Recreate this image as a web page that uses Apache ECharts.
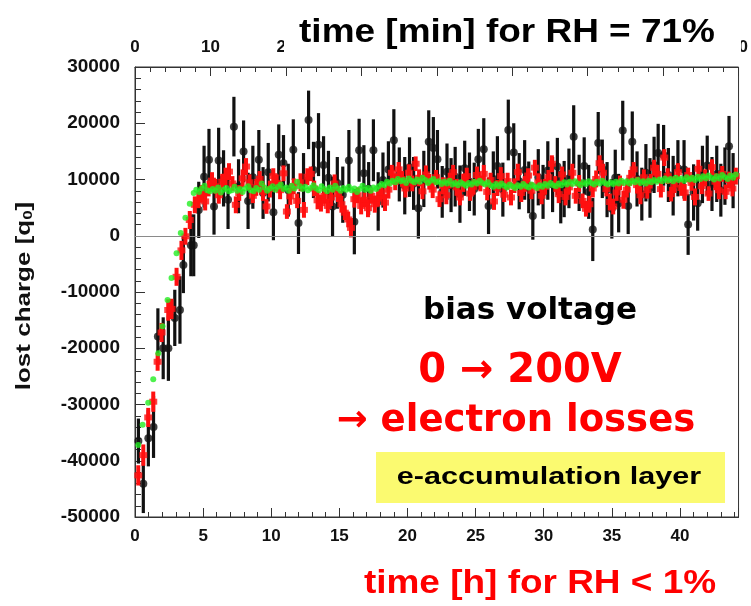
<!DOCTYPE html>
<html>
<head>
<meta charset="utf-8">
<script src="https://cdn.jsdelivr.net/npm/echarts/dist/echarts.min.js"></script>
<style>html,body{margin:0;padding:0;background:#fff}#c{width:751px;height:606px}</style>
</head>
<body>
<div id="c"></div>
<script>
// ---- data (time in hours, lost charge in q0) ----
const blackTime = [
0.25,0.61,0.98,1.36,1.68,2.07,2.45,2.92,3.30,3.55,
4.10,4.31,4.68,5.07,5.43,5.80,6.14,6.50,6.83,7.26,
7.60,7.97,8.30,8.65,9.09,9.40,9.78,10.16,10.55,10.90,
11.25,11.62,12.00,12.37,12.74,13.10,13.47,13.84,14.20,14.50,
14.85,15.25,15.70,16.10,16.45,16.80,17.15,17.50,17.85,18.20,
18.60,19.00,19.40,19.80,20.15,20.45,20.80,21.20,21.56,21.90,
22.20,22.55,22.90,23.20,23.50,23.85,24.20,24.55,24.90,25.20,
25.60,25.95,26.30,26.60,27.00,27.40,27.80,28.20,28.60,28.90,
29.20,29.60,29.95,30.30,30.65,31.00,31.25,31.50,31.85,32.20,
32.60,32.97,33.30,33.60,34.00,34.30,34.65,35.00,35.25,35.50,
35.80,36.20,36.50,36.85,37.20,37.50,37.80,38.10,38.40,38.80,
39.15,39.50,39.85,40.30,40.60,41.00,41.30,41.65,42.00,42.35,
42.70,43.00,43.30,43.60,43.90];
const blackCharge = [
-36500,-44100,-36000,-34000,-17900,-20000,-20000,-14600,-13200,-5200,
-1700,-1700,4600,10500,13500,5200,13400,10200,6400,19400,
8800,15000,6200,10400,13500,7600,11300,4200,14400,12900,
8100,15300,2250,9800,20600,11700,16200,12600,10300,5200,
9400,7300,13400,2500,15200,11100,8400,15200,6100,9900,
11800,17000,10900,8900,12200,9300,4900,10100,16700,15600,
13600,7800,11400,9000,10500,7400,12000,9600,8300,13600,
15400,5300,10100,12400,8200,18800,14800,9700,11700,8600,
3500,10400,7800,11600,9100,12300,6900,8300,10200,17600,
9400,12400,7800,1100,16500,11900,8200,4800,10300,5800,
18700,5300,16700,10100,7400,11200,8500,12600,14700,14300,
10800,8900,12000,11800,2000,7700,5800,10900,12500,9200,
11000,8100,10600,15900,9800];
const blackError = [
4000,5200,5000,5500,5000,5500,5800,5000,6000,5000,
5500,5500,5000,5500,5500,5000,5800,5000,5200,5300,
4800,5500,5000,5600,5300,4600,5200,5000,5400,5000,
4700,5400,5500,4900,5200,5000,5600,5100,4800,5300,
4600,5000,5400,5800,5600,5000,4700,5500,5200,4900,
5000,5500,4800,5100,5300,4700,5400,5000,5600,5500,
5200,4600,5000,4800,5300,5100,4900,5200,4700,5400,
5500,5000,4900,5300,4800,5400,5200,5000,5300,4600,
4200,5000,4800,5200,4900,5100,4700,5000,5300,5600,
5000,5100,4800,5600,5500,5200,4900,5300,5000,5200,
5300,5000,5400,4900,4700,5100,5300,5000,5200,5400,
4800,5300,5000,5200,5400,5000,4900,5100,5300,4800,
5000,4700,5100,5400,4900];

const redTime = [
0.24,0.61,0.97,1.34,1.66,1.95,2.44,2.68,3.05,3.41,
3.70,4.02,4.39,4.65,4.90,5.15,5.40,5.65,5.90,6.15,
6.40,6.65,6.90,7.15,7.40,7.65,7.90,8.15,8.40,8.65,
8.90,9.15,9.40,9.65,9.90,10.15,10.40,10.65,10.90,11.15,
11.40,11.65,11.90,12.15,12.40,12.65,12.90,13.15,13.40,13.65,
13.90,14.15,14.40,14.65,14.90,15.15,15.40,15.65,15.85,16.10,
16.35,16.60,16.85,17.10,17.35,17.60,17.85,18.10,18.35,18.60,
18.85,19.10,19.35,19.60,19.85,20.10,20.35,20.60,20.85,21.10,
21.35,21.60,21.85,22.10,22.35,22.60,22.85,23.10,23.35,23.60,
23.85,24.10,24.35,24.60,24.85,25.10,25.35,25.60,25.85,26.10,
26.35,26.60,26.85,27.10,27.35,27.60,27.85,28.10,28.35,28.60,
28.85,29.10,29.35,29.60,29.85,30.10,30.35,30.60,30.85,31.10,
31.35,31.60,31.85,32.10,32.35,32.60,32.85,33.10,33.35,33.60,
33.85,34.10,34.35,34.60,34.85,35.10,35.35,35.60,35.85,36.10,
36.35,36.60,36.85,37.10,37.35,37.60,37.85,38.10,38.35,38.60,
38.85,39.10,39.35,39.60,39.85,40.10,40.35,40.60,40.85,41.10,
41.35,41.60,41.85,42.10,42.35,42.60,42.85,43.10,43.35,43.60,
43.85,44.10];
const redCharge = [
-42600,-39000,-32300,-29500,-22400,-17200,-13200,-13000,-7300,-2600,
-100,2800,5500,6300,7500,6100,8400,9800,8800,7200,
9600,10500,11400,9300,5500,7600,10200,12300,9500,7100,
8600,10100,7800,5200,8300,10600,9400,8100,11100,4300,
7000,8800,6200,9500,4600,10500,11000,8400,6300,5800,
7100,5300,6800,9300,7400,5600,4100,2900,1400,6500,
7200,5300,6400,4900,7100,5600,6600,7700,5900,8200,
11200,9600,11800,10100,8400,11200,9300,12800,10300,7900,
10900,9600,8200,10400,6500,8900,7200,9800,11300,8600,
6800,9400,10600,7500,8700,10800,9300,11000,7800,9900,
6100,8500,10600,7300,9700,6800,8900,11300,7600,9200,
10700,8000,12100,9500,7100,8700,10400,12800,9200,7400,
10900,6900,8600,11200,7100,9300,6200,4800,5600,8400,
10100,12900,11200,8300,6000,5200,7700,9400,6400,8200,
10300,11800,9000,7200,10400,8100,9700,12100,11000,8300,
13900,10600,7400,9100,11300,8500,7700,10800,9400,6900,
11900,8800,10300,7500,12200,9600,8100,11000,7800,9900,
8400,10600];
const redError = [
1800,1900,1700,1800,1600,1700,1900,1800,1600,1700,
1500,1600,1500,1400,1500,1600,1400,1500,1300,1500,
1400,1600,1500,1300,1500,1400,1600,1500,1400,1300,
1500,1400,1600,1300,1500,1400,1500,1600,1400,1300,
1500,1400,1300,1600,1400,1500,1300,1400,1600,1500,
1400,1300,1500,1600,1400,1500,1300,1400,1700,1500,
1400,1500,1300,1600,1400,1500,1400,1300,1500,1600,
1400,1500,1300,1400,1600,1500,1400,1300,1500,1400,
1600,1400,1500,1300,1400,1500,1600,1400,1300,1500,
1400,1600,1500,1300,1400,1500,1400,1600,1500,1300,
1500,1400,1600,1300,1500,1400,1300,1500,1600,1400,
1300,1500,1400,1600,1500,1400,1300,1500,1400,1600,
1400,1500,1300,1600,1400,1500,1300,1400,1500,1600,
1500,1400,1600,1300,1500,1400,1500,1300,1600,1400,
1400,1300,1500,1600,1400,1500,1300,1400,1600,1500,
1500,1400,1300,1500,1600,1400,1500,1300,1400,1500,
1600,1400,1500,1300,1400,1500,1600,1400,1300,1500,
1400,1500];

const greenTime = [
0.24,0.56,0.97,1.34,1.71,2.02,2.39,2.68,3.05,3.36,
3.70,4.02,4.31,4.5,4.7,4.9,5.1,5.3,5.5,5.7,
5.9,6.1,6.3,6.5,6.7,6.9,7.1,7.3,7.5,7.7,
7.9,8.1,8.3,8.5,8.7,8.9,9.1,9.3,9.5,9.7,
9.9,10.1,10.3,10.5,10.7,10.9,11.1,11.3,11.5,11.7,
11.9,12.1,12.3,12.5,12.7,12.9,13.1,13.3,13.5,13.7,
13.9,14.1,14.3,14.5,14.7,14.9,15.1,15.3,15.5,15.7,
15.9,16.1,16.3,16.5,16.7,16.9,17.1,17.3,17.5,17.7,
17.9,18.1,18.3,18.5,18.7,18.9,19.1,19.3,19.5,19.7,
19.9,20.1,20.3,20.5,20.7,20.9,21.1,21.3,21.5,21.7,
21.9,22.1,22.3,22.5,22.7,22.9,23.1,23.3,23.5,23.7,
23.9,24.1,24.3,24.5,24.7,24.9,25.1,25.3,25.5,25.7,
25.9,26.1,26.3,26.5,26.7,26.9,27.1,27.3,27.5,27.7,
27.9,28.1,28.3,28.5,28.7,28.9,29.1,29.3,29.5,29.7,
29.9,30.1,30.3,30.5,30.7,30.9,31.1,31.3,31.5,31.7,
31.9,32.1,32.3,32.5,32.7,32.9,33.1,33.3,33.5,33.7,
33.9,34.1,34.3,34.5,34.7,34.9,35.1,35.3,35.5,35.7,
35.9,36.1,36.3,36.5,36.7,36.9,37.1,37.3,37.5,37.7,
37.9,38.1,38.3,38.5,38.7,38.9,39.1,39.3,39.5,39.7,
39.9,40.1,40.3,40.5,40.7,40.9,41.1,41.3,41.5,41.7,
41.9,42.1,42.3,42.5,42.7,42.9,43.1,43.3,43.5,43.7,
43.9,44.1];
const greenCharge = [
-37200,-33600,-29700,-25500,-20900,-16100,-11400,-7500,-3100,500,
3200,5700,7600,8200,7800,8400,8900,8100,7900,8300,
8000,8600,7700,8200,8500,7900,8100,8700,8000,8300,
7800,8400,8800,8100,7900,8500,8200,9300,8600,8000,
8400,8800,8200,8700,9100,8300,8600,8000,8900,8400,
9600,8800,8300,8700,8100,8500,9000,8400,8100,8800,
8300,7900,8600,8200,8900,8400,8000,8500,8200,8700,
8100,8400,7800,8300,8900,8200,8500,8000,8600,8300,
8800,9200,9000,9600,9300,9800,9500,10100,9700,9900,
9400,10200,9800,9500,10000,9600,10300,9900,9400,9800,
10100,9500,9700,9200,9600,9300,9800,9100,9400,9000,
9500,9200,8900,9400,9100,9600,9300,9800,9400,9100,
9500,9000,8700,9200,8800,9300,8900,8600,9100,8800,
8500,9000,8700,9200,8800,8600,9100,8800,8500,9000,
8700,9200,8900,9400,9000,8800,9300,9000,9500,9100,
9600,9200,9700,9300,9000,9500,9200,9700,9400,9100,
9600,9300,9800,9400,9100,9500,9200,9600,9300,9800,
9400,9700,9300,9800,9500,9900,9400,9700,9300,9800,
9500,9900,9600,10000,9700,10200,9800,10100,9700,10300,
9900,10200,9800,10400,10000,10300,9900,10500,10100,10600,
10200,10700,10300,10000,10600,10200,10800,10400,10100,10700,
10300,10900];

const yTicks = [-50000, 30000, 10000];     // min, max, step of lost charge axis
const hourTicks = [0, 44.3, 5];            // bottom axis (hours)
const minuteTicks = [0, 80, 10];           // top axis (minutes)

// ---- build ----
const blackData = blackTime.map((t, i) => [t, blackCharge[i], blackError[i]]);
const redData = redTime.map((t, i) => [t, redCharge[i], redError[i]]);
const greenData = greenTime.map((t, i) => [t, greenCharge[i]]);

function errBar(color, width) {
  return function (params, api) {
    const x = api.value(0), y = api.value(1), e = api.value(2);
    const lo = api.coord([x, y - e]), hi = api.coord([x, y + e]);
    return {
      type: 'line',
      shape: { x1: lo[0], y1: lo[1], x2: hi[0], y2: hi[1] },
      style: { stroke: color, lineWidth: width }
    };
  };
}

const FONT = '"Liberation Sans", Arial, sans-serif';
const plain = (v) => String(v);
const lbl = (size) => ({ fontFamily: FONT, fontWeight: 'bold', fontSize: size, color: '#111', formatter: plain });

const chart = echarts.init(document.getElementById('c'), null, { renderer: 'canvas' });
chart.setOption({
  animation: false,
  backgroundColor: '#fff',
  grid: { left: 135, right: 10, top: 67, bottom: 89, show: true, borderColor: '#333', borderWidth: 1, backgroundColor: 'transparent' },
  xAxis: [
    {
      type: 'value', position: 'bottom', min: hourTicks[0], max: hourTicks[1], interval: hourTicks[2],
      axisLine: { show: true, onZero: false, lineStyle: { color: '#333', width: 1 } },
      axisTick: { show: true, inside: true, length: 9, lineStyle: { color: '#333' } },
      minorTick: { show: true, splitNumber: 5, length: 5, lineStyle: { color: '#333' } },
      splitLine: { show: false },
      axisLabel: Object.assign(lbl(17), { margin: 11, showMaxLabel: false })
    },
    {
      type: 'value', position: 'top', min: minuteTicks[0], max: minuteTicks[1], interval: minuteTicks[2],
      axisLine: { show: true, onZero: false, lineStyle: { color: '#333', width: 1 } },
      axisTick: { show: true, inside: true, length: 9, lineStyle: { color: '#333' } },
      minorTick: { show: true, splitNumber: 5, length: 5, lineStyle: { color: '#333' } },
      splitLine: { show: false },
      axisLabel: Object.assign(lbl(17), { margin: 11 })
    }
  ],
  yAxis: {
    type: 'value', min: yTicks[0], max: yTicks[1], interval: yTicks[2],
    axisLine: { show: true, onZero: false, lineStyle: { color: '#333', width: 1 } },
    axisTick: { show: true, inside: true, length: 10, lineStyle: { color: '#333' } },
    minorTick: { show: true, splitNumber: 5, length: 6, lineStyle: { color: '#333' } },
    splitLine: { show: false },
    axisLabel: Object.assign(lbl(19), { margin: 15 })
  },
  series: [
    {
      type: 'custom', name: 'black err', xAxisIndex: 0, data: blackData, encode: { x: 0, y: 1 },
      renderItem: errBar('#111', 3.2), clip: true, silent: true, z: 2
    },
    {
      type: 'scatter', name: 'black', xAxisIndex: 0, data: blackData, symbol: 'circle', symbolSize: 8,
      itemStyle: { color: '#111' }, silent: true, z: 3,
      markLine: {
        silent: true, symbol: 'none', label: { show: false },
        lineStyle: { color: '#8a8a8a', width: 1, type: 'solid' },
        data: [{ yAxis: 0 }]
      }
    },
    {
      type: 'custom', name: 'red err', xAxisIndex: 0, data: redData, encode: { x: 0, y: 1 },
      renderItem: errBar('#ff1010', 4), clip: true, silent: true, z: 4
    },
    {
      type: 'scatter', name: 'red', xAxisIndex: 0, data: redData, symbol: 'rect', symbolSize: [8, 6],
      itemStyle: { color: '#ff1010' }, silent: true, z: 5
    },
    {
      type: 'scatter', name: 'green', xAxisIndex: 0, data: greenData, symbol: 'circle', symbolSize: 6,
      itemStyle: { color: '#22ee22' }, silent: true, z: 6
    }
  ],
  graphic: [
    { type: 'rect', shape: { x: 284, y: 0, width: 457, height: 61 }, style: { fill: '#fff' }, z: 100 },
    { type: 'text', x: 507, y: 33, scaleX: 1.12, z: 101,
      style: { text: 'time [min] for RH = 71%', font: 'bold 33px ' + FONT, fill: '#000', align: 'center', verticalAlign: 'middle' } },
    { type: 'text', x: 540, y: 584, scaleX: 1.12, z: 101,
      style: { text: 'time [h] for RH < 1%', font: 'bold 33px ' + FONT, fill: '#ff0000', align: 'center', verticalAlign: 'middle' } },
    { type: 'text', x: 24, y: 296, rotation: Math.PI / 2, scaleX: 1.3, z: 101,
      style: {
        text: '{a|lost charge [q}{s|0}{a|]}', align: 'center', verticalAlign: 'middle',
        rich: {
          a: { font: 'bold 20px ' + FONT, fill: '#111' },
          s: { font: 'bold 13px ' + FONT, fill: '#111', padding: [8, 0, 0, 0] }
        }
      } },
    { type: 'text', x: 530, y: 311, z: 101,
      style: { text: 'bias voltage', font: 'bold 31px "DejaVu Sans", sans-serif', fill: '#000', align: 'center', verticalAlign: 'middle' } },
    { type: 'text', x: 520, y: 372, z: 101,
      style: { text: '0 \u2192 200V', font: 'bold 40px "DejaVu Sans", sans-serif', fill: '#ff0000', align: 'center', verticalAlign: 'middle' } },
    { type: 'text', x: 516, y: 421, z: 101,
      style: { text: '\u2192 electron losses', font: 'bold 37px "DejaVu Sans", sans-serif', fill: '#ff0000', align: 'center', verticalAlign: 'middle' } },
    { type: 'rect', shape: { x: 376, y: 452, width: 349, height: 51 }, style: { fill: '#fbfa70' }, z: 100 },
    { type: 'text', x: 549, y: 478, scaleX: 1.33, z: 101,
      style: { text: 'e-accumulation layer', font: 'bold 23px ' + FONT, fill: '#000', align: 'center', verticalAlign: 'middle' } }
  ]
});
</script>
</body>
</html>
